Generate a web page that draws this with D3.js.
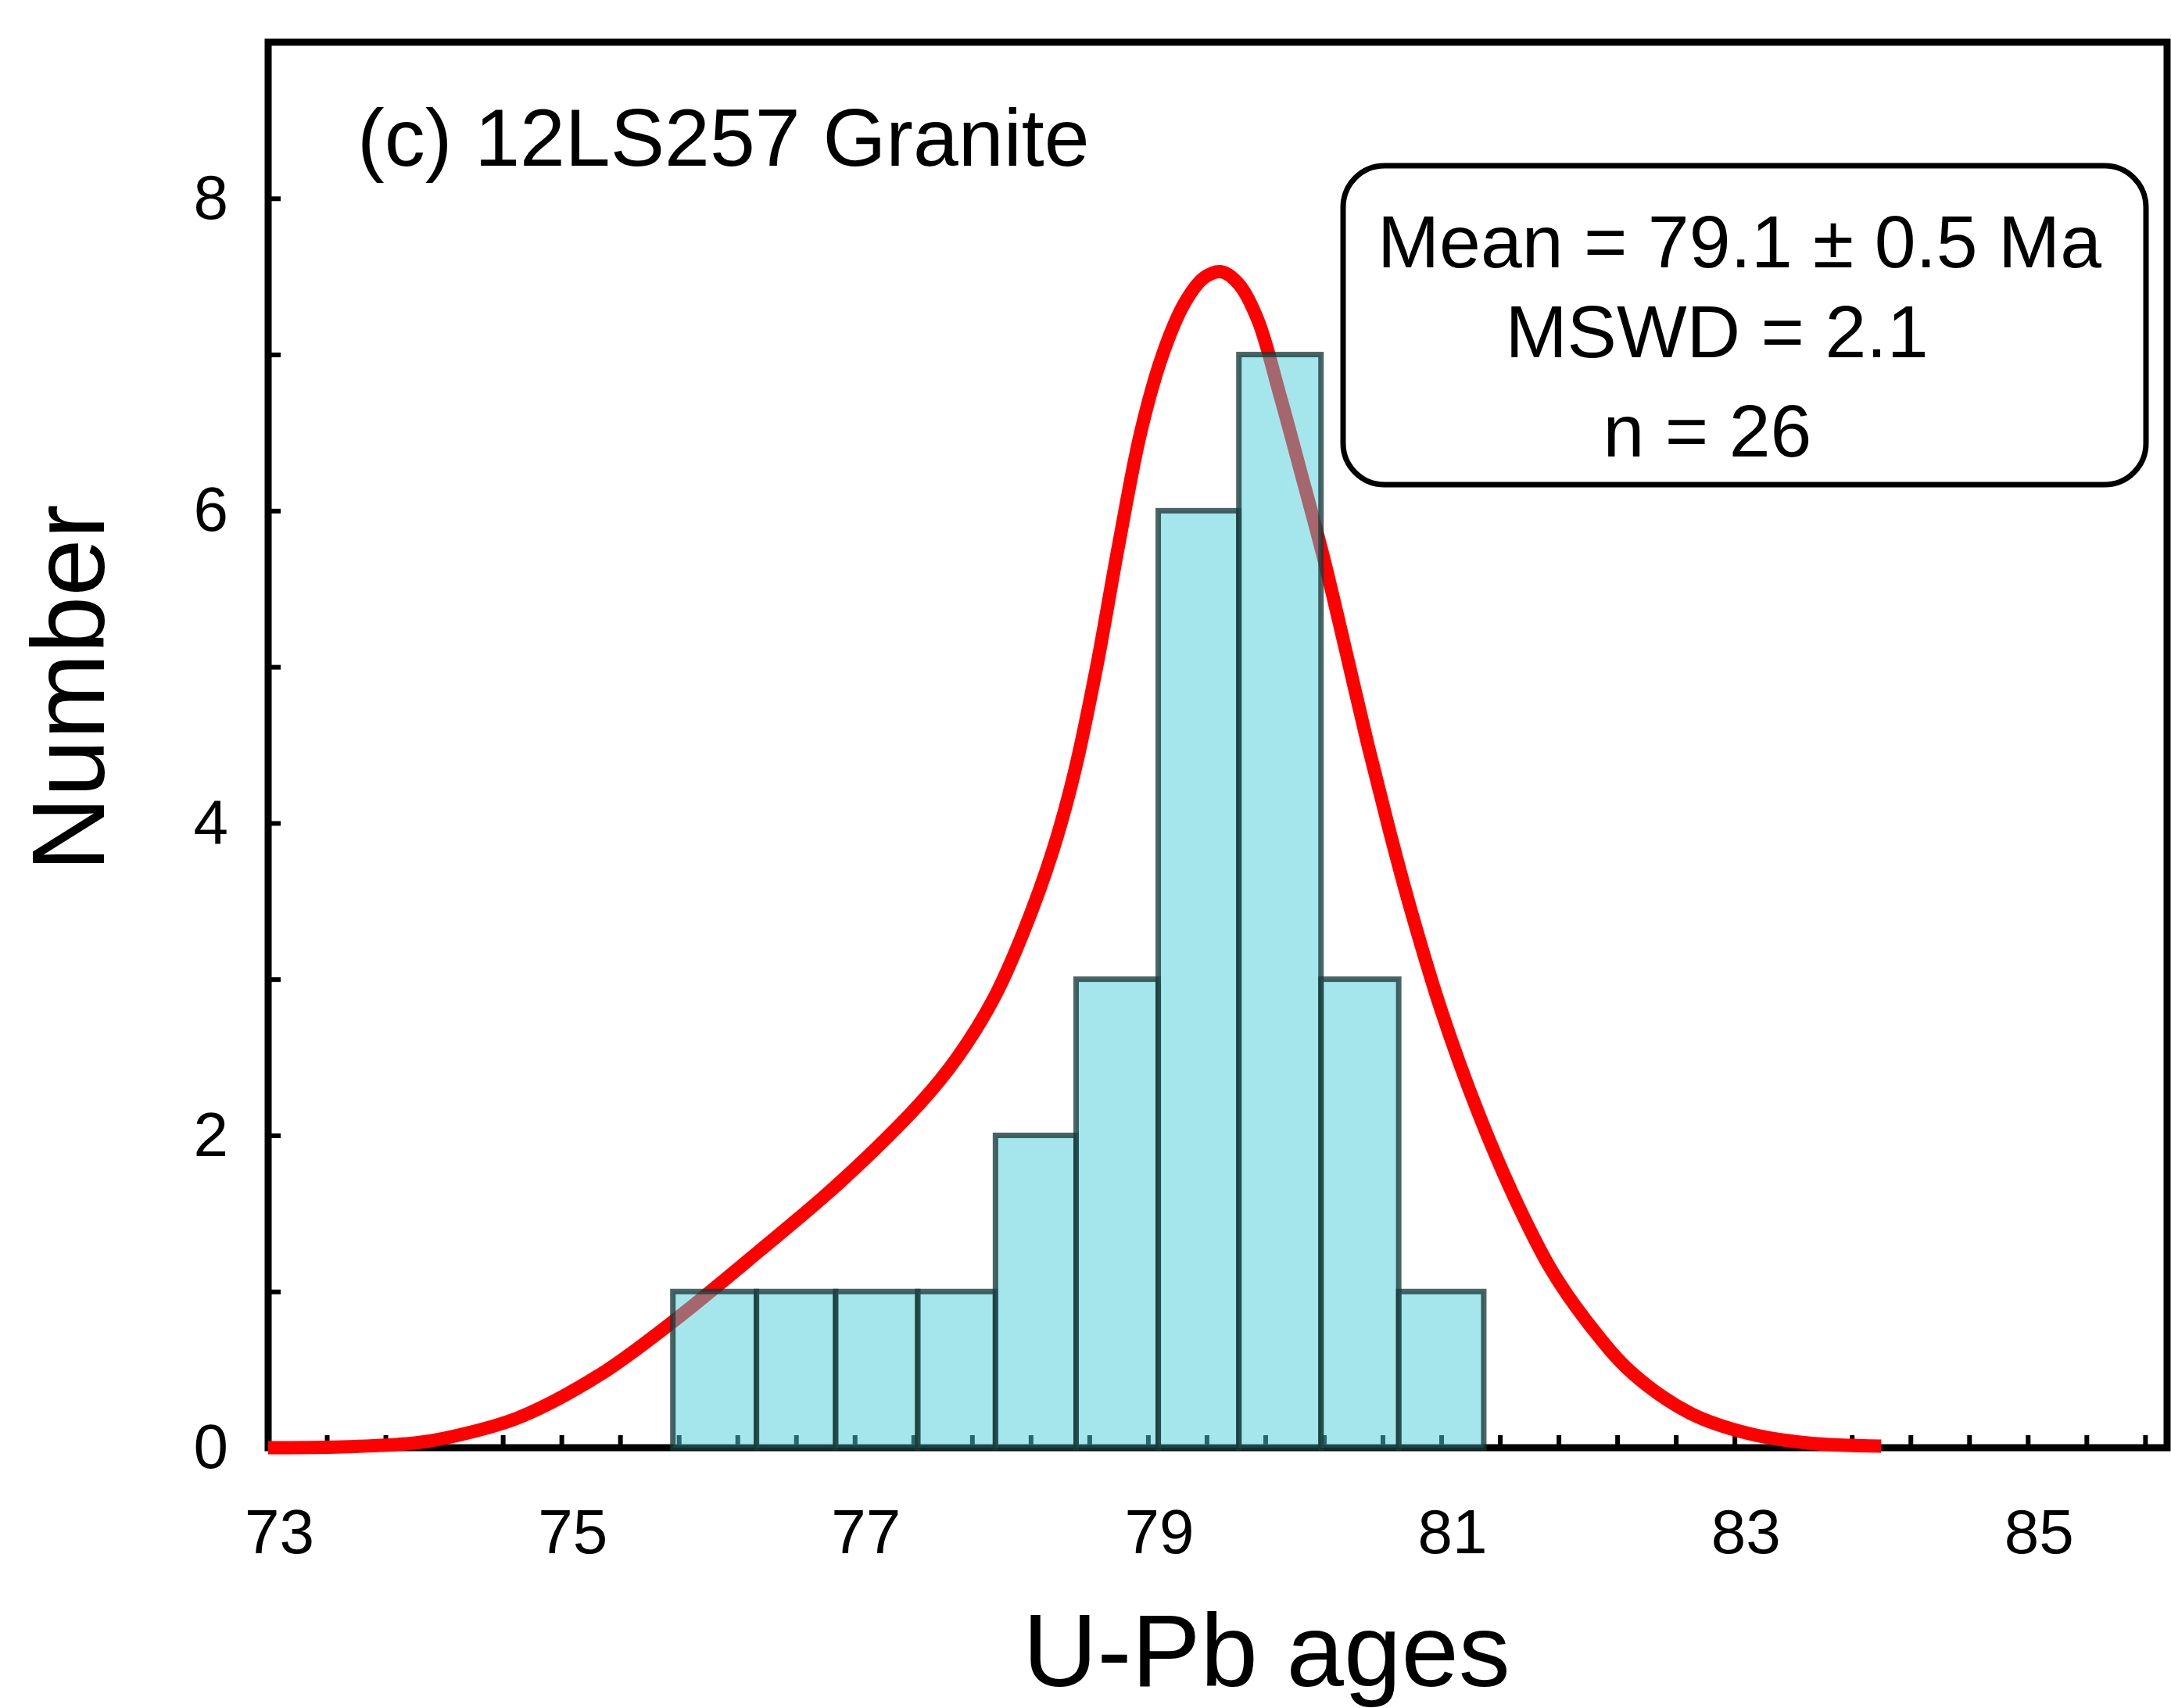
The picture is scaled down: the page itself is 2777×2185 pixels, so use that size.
<!DOCTYPE html>
<html>
<head>
<meta charset="utf-8">
<script src="https://cdn.jsdelivr.net/npm/d3@7"></script>
<style>
  body { margin: 0; background: #fff; }
  text { font-family: "Liberation Sans", Arial, sans-serif; fill: #000; }
</style>
</head>
<body>
<div id="main"></div>
<script>
// histogram bins (Ma) and number of grains in each
const binEdges = [75.76, 76.33, 76.87, 77.43, 77.96, 78.51, 79.07, 79.62, 80.18, 80.71, 81.29];
const binCounts = [1, 1, 1, 1, 2, 3, 6, 7, 3, 1];

// probability curve
const curveAges = [73.0, 73.5, 74.0, 74.2, 74.7, 75.25, 75.75, 76.35, 76.9, 77.45, 77.7, 77.95,
    78.15, 78.35, 78.5, 78.65, 78.8, 78.95, 79.1, 79.25, 79.38, 79.5, 79.62, 79.75, 79.9, 80.05,
    80.2, 80.35, 80.5, 80.65, 80.8, 81.0, 81.25, 81.5, 81.75, 82.0, 82.3, 82.7, 83.1, 83.5, 84.0];
const curveValues = [0, 0.005, 0.03, 0.06, 0.19, 0.46, 0.80, 1.26, 1.70, 2.21, 2.50, 2.88,
    3.30, 3.82, 4.33, 5.00, 5.78, 6.50, 7.00, 7.33, 7.49, 7.53, 7.45, 7.22, 6.74, 6.22,
    5.69, 5.10, 4.50, 3.94, 3.42, 2.80, 2.15, 1.60, 1.14, 0.80, 0.48, 0.22, 0.09, 0.03, 0.01];

// tick labels
const xTickLabels = [73, 75, 77, 79, 81, 83, 85];
const yTickLabels = [0, 2, 4, 6, 8];

const sampleTitle = '(c) 12LS257 Granite';
const statLines = ['Mean = 79.1 \u00b1 0.5 Ma', 'MSWD = 2.1', 'n = 26'];

const svgWidth = 2777, svgHeight = 2185;
const plot = { left: 343, right: 2772, top: 54, bottom: 1852 };

const svg = d3.select('#main')
    .append('svg')
    .attr('width', svgWidth)
    .attr('height', svgHeight);

const xScale = d3.scaleLinear()
    .domain([73, 85.95])
    .range([plot.left, plot.right]);

const yScale = d3.scaleLinear()
    .domain([0, 9])
    .range([plot.bottom, plot.top]);

// x axis: small ticks every 0.4 Ma, labels every 2 Ma
const xTicks = d3.range(0, 33).map(i => +(73 + i * 0.4).toFixed(1));
svg.append('g')
    .attr('transform', `translate(0, ${plot.bottom})`)
    .call(d3.axisBottom(xScale)
        .tickValues(xTicks)
        .tickSizeInner(-16)
        .tickSizeOuter(0)
        .tickPadding(78)
        .tickFormat(d => xTickLabels.includes(d) ? d : ''))
    .call(g => g.select('.domain').remove())
    .call(g => g.selectAll('line').attr('stroke', '#000').attr('stroke-width', 6))
    .call(g => g.selectAll('text').attr('font-size', 80).attr('dx', 14));

// y axis
svg.append('g')
    .attr('transform', `translate(${plot.left}, 0)`)
    .call(d3.axisLeft(yScale)
        .tickValues(d3.range(0, 9))
        .tickSizeInner(-16)
        .tickSizeOuter(0)
        .tickPadding(51)
        .tickFormat(d => yTickLabels.includes(d) ? d : ''))
    .call(g => g.select('.domain').remove())
    .call(g => g.selectAll('line').attr('stroke', '#000').attr('stroke-width', 6))
    .call(g => g.selectAll('text').attr('font-size', 80));

// frame
svg.append('rect')
    .attr('x', plot.left)
    .attr('y', plot.top)
    .attr('width', plot.right - plot.left)
    .attr('height', plot.bottom - plot.top)
    .attr('fill', 'none')
    .attr('stroke', '#000')
    .attr('stroke-width', 9);

// red probability curve (under the bars)
const curvePoints = curveAges.map((a, i) => [a, curveValues[i]]);
svg.append('path')
    .datum(curvePoints)
    .attr('fill', 'none')
    .attr('stroke', '#ff0000')
    .attr('stroke-width', 17)
    .attr('d', d3.line()
        .x(d => xScale(d[0]))
        .y(d => yScale(d[1]))
        .curve(d3.curveCatmullRom.alpha(0.5)));

// histogram bars
const bins = binCounts.map((n, i) => ({ x0: binEdges[i], x1: binEdges[i + 1], n: n }));
svg.selectAll('rect.bar')
    .data(bins)
    .enter()
    .append('rect')
    .attr('class', 'bar')
    .attr('x', d => xScale(d.x0))
    .attr('width', d => xScale(d.x1) - xScale(d.x0))
    .attr('y', d => yScale(d.n))
    .attr('height', d => yScale(0) - yScale(d.n))
    .attr('fill', 'rgb(75,205,217)')
    .attr('fill-opacity', 0.5)
    .attr('stroke', '#1a3839')
    .attr('stroke-opacity', 0.78)
    .attr('stroke-width', 7);

// sample label
svg.append('text')
    .attr('x', 457)
    .attr('y', 212)
    .attr('font-size', 104)
    .text(sampleTitle);

// statistics box
svg.append('rect')
    .attr('x', 1718)
    .attr('y', 212)
    .attr('width', 1027)
    .attr('height', 408)
    .attr('rx', 53)
    .attr('fill', '#fff')
    .attr('stroke', '#000')
    .attr('stroke-width', 7);

const statPos = [[2225, 342], [2196, 457], [2184, 584]];
svg.selectAll('text.stat')
    .data(statLines)
    .enter()
    .append('text')
    .attr('class', 'stat')
    .attr('x', (d, i) => statPos[i][0])
    .attr('y', (d, i) => statPos[i][1])
    .attr('text-anchor', 'middle')
    .attr('font-size', 95)
    .text(d => d);

// axis titles
svg.append('text')
    .attr('transform', 'translate(133, 880) rotate(-90)')
    .attr('text-anchor', 'middle')
    .attr('font-size', 132)
    .text('Number');

svg.append('text')
    .attr('x', 1620)
    .attr('y', 2157)
    .attr('text-anchor', 'middle')
    .attr('font-size', 132)
    .text('U-Pb ages');
</script>
</body>
</html>
